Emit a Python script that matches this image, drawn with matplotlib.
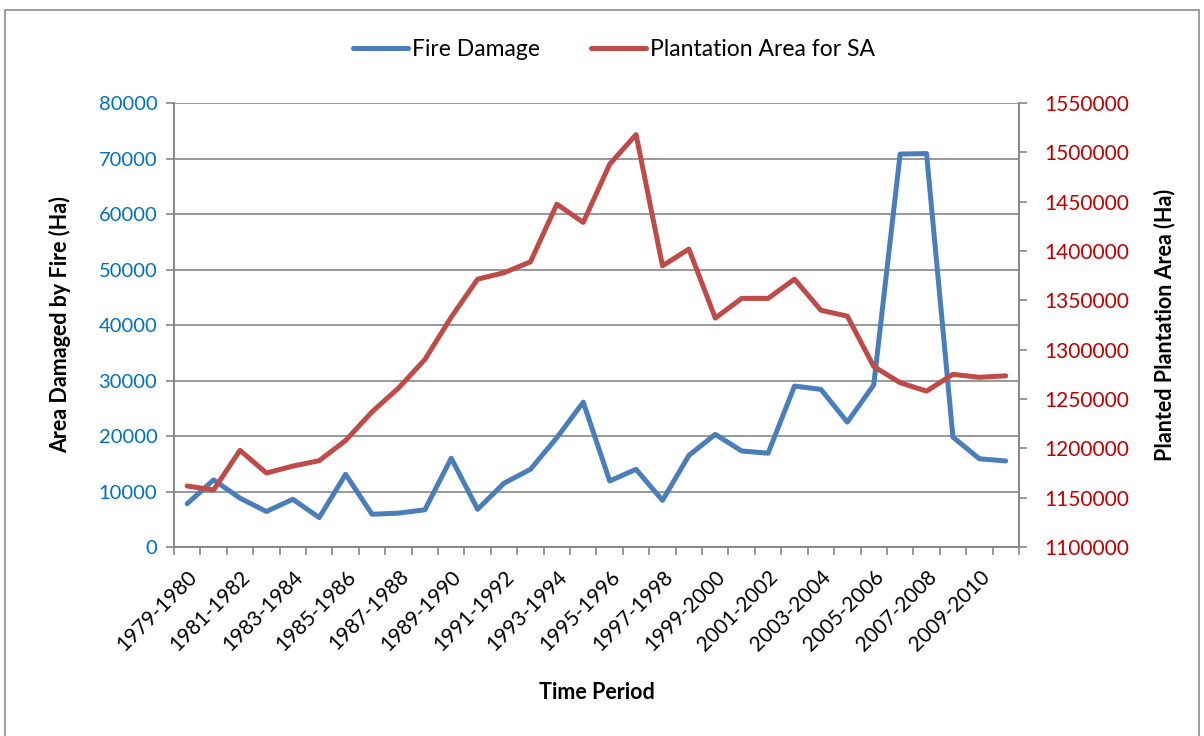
import numpy as np
import matplotlib
matplotlib.use("Agg")
import matplotlib.pyplot as plt
from matplotlib.patches import Rectangle
from matplotlib.ticker import FuncFormatter

# Data
start_years = list(range(1979, 2011))
periods = ['%d-%d' % (y, y + 1) for y in start_years]

fire_damage = [7800, 12100, 8800, 6400, 8600, 5300, 13100, 5900, 6100, 6700,
               16000, 6800, 11500, 14000, 19700, 26100, 11900, 14000, 8400, 16500,
               20300, 17300, 16900, 29000, 28400, 22500, 29200, 70800, 70900, 19800,
               15900, 15500]

plantation_area = [1161800, 1157800, 1198000, 1175000, 1182000, 1187500, 1208000,
                   1237000, 1261000, 1290000, 1333000, 1371500, 1378000, 1389000,
                   1447500, 1429000, 1488000, 1518000, 1385000, 1402000, 1332000,
                   1352000, 1352000, 1371500, 1340000, 1334000, 1283000, 1266500,
                   1258000, 1275000, 1272000, 1273500]

blue = '#4A7EBB'
red = '#BE4B48'
grid_grey = '#868686'

plt.rcParams['font.family'] = ['Lato', 'DejaVu Sans']

fig = plt.figure(figsize=(12.04, 7.36), dpi=100)
fig.patches.append(Rectangle((0.004, -0.01), 0.992, 0.997, transform=fig.transFigure,
                             fill=False, edgecolor='#8C8C8C', linewidth=1.2))

ax = fig.add_axes([0.1445, 0.2568, 0.7018, 0.6032])
ax2 = ax.twinx()

x = np.arange(len(periods))
l1, = ax.plot(x, fire_damage, color=blue, linewidth=3.6, solid_joinstyle='round',
              solid_capstyle='round', label='Fire Damage', zorder=3)
l2, = ax2.plot(x, plantation_area, color=red, linewidth=3.6, solid_joinstyle='round',
               solid_capstyle='round', label='Plantation Area for SA', zorder=3)

ax.set_xlim(-0.5, len(periods) - 0.5)
ax.set_ylim(0, 80000)
ax.set_yticks(range(0, 80001, 10000))
ax2.set_ylim(1100000, 1550000)
ax2.set_yticks(range(1100000, 1550001, 50000))
ax2.yaxis.set_major_formatter(FuncFormatter(lambda v, p: '%d' % v))

ax.yaxis.grid(True, color=grid_grey, linewidth=1.2)
ax.set_axisbelow(True)

# category labels every other period, tick marks between categories
ax.set_xticks(x[::2])
ax.set_xticklabels(periods[::2], rotation=45, ha='right', rotation_mode='anchor',
                   fontsize=15)
ax.set_xticks(np.arange(-0.5, len(periods), 1), minor=True)
ax.tick_params(axis='x', which='major', length=0, pad=14)
ax.tick_params(axis='x', which='minor', length=6, color=grid_grey, width=1.2)

ax.tick_params(axis='y', labelsize=14.5, labelcolor='#0070C0', length=6,
               color=grid_grey, width=1.2, pad=6)
ax2.tick_params(axis='y', labelsize=15, labelcolor='#C00000', length=6,
                color=grid_grey, width=1.2, pad=12)

for a in (ax, ax2):
    a.spines['top'].set_visible(False)
    for s in ('left', 'right', 'bottom'):
        a.spines[s].set_color(grid_grey)
        a.spines[s].set_linewidth(1.2)

ax.set_ylabel('Area Damaged by Fire (Ha)', fontsize=15.5, fontweight='bold', labelpad=20)
ax2.set_ylabel('Planted Plantation Area (Ha)', fontsize=15.5, fontweight='bold', labelpad=18)
ax.set_xlabel('Time Period', fontsize=15.5, fontweight='bold', labelpad=20)

fig.legend(handles=[l1, l2], loc='center', bbox_to_anchor=(0.51, 0.933), ncol=2,
           frameon=False, fontsize=16.5, handlelength=2.4, columnspacing=2.2,
           handletextpad=0.2)

fig.savefig('out.png', dpi=100)
